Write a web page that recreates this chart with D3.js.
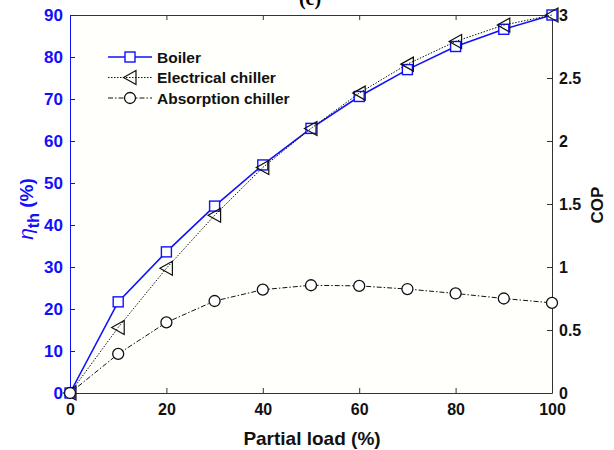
<!DOCTYPE html>
<html>
<head>
<meta charset="utf-8">
<script src="https://cdn.jsdelivr.net/npm/d3@7"></script>
<style>
  body { margin: 0; background: #fff; }
  text { font-family: 'Liberation Sans', Arial, sans-serif; font-weight: bold; }
</style>
</head>
<body>
<svg width="614" height="450"></svg>
<script>
// data
var loads = [0, 10, 20, 30, 40, 50, 60, 70, 80, 90, 100];
var boilerEff = [0, 21.7, 33.6, 44.5, 54.3, 63.0, 70.6, 77.0, 82.5, 86.6, 90.0];       // %, left axis
var elecCOP = [0, 0.52, 0.99, 1.41, 1.79, 2.10, 2.38, 2.61, 2.79, 2.92, 3.0];          // right axis
var absCOP = [0, 0.31, 0.56, 0.73, 0.82, 0.855, 0.85, 0.825, 0.79, 0.75, 0.715];       // right axis
var xTicks = [0, 20, 40, 60, 80, 100];
var yLeftTicks = [0, 10, 20, 30, 40, 50, 60, 70, 80, 90];
var yRightTicks = [0, 0.5, 1, 1.5, 2, 2.5, 3];

var blue = '#1010ff';
var svg = d3.select('svg');
// note: "top" is taken by window.top, so plot box uses its own names
var pLeft = 70, pRight = 552, pTop = 15, pBottom = 393;

var x = d3.scaleLinear().domain([0, 100]).range([pLeft, pRight]);
var yL = d3.scaleLinear().domain([0, 90]).range([pBottom, pTop]);
var yR = d3.scaleLinear().domain([0, 3]).range([pBottom, pTop]);

// plot background
svg.append('rect')
    .attr('x', pLeft).attr('y', pTop)
    .attr('width', pRight - pLeft).attr('height', pBottom - pTop)
    .attr('fill', '#fffffc');

// axes (matlab style, ticks inward)
svg.append('g')
    .attr('transform', 'translate(0,' + pBottom + ')')
    .call(d3.axisBottom(x).tickValues(xTicks).tickSize(-5).tickPadding(11).tickSizeOuter(0))
    .call(function (g) {
        g.select('.domain').attr('stroke', '#333');
        g.selectAll('line').attr('stroke', '#333');
        g.selectAll('text').attr('font-size', 16).attr('fill', '#111');
    });

svg.append('g')
    .attr('transform', 'translate(0,' + pTop + ')')
    .call(d3.axisTop(x).tickValues(xTicks).tickSize(-5).tickFormat('').tickSizeOuter(0))
    .call(function (g) {
        g.select('.domain').attr('stroke', '#333');
        g.selectAll('line').attr('stroke', '#333');
    });

svg.append('g')
    .attr('transform', 'translate(' + pRight + ',0)')
    .call(d3.axisRight(yR).tickValues(yRightTicks).tickFormat(d3.format('~g'))
        .tickSize(-5).tickPadding(7).tickSizeOuter(0))
    .call(function (g) {
        g.select('.domain').attr('stroke', '#333');
        g.selectAll('line').attr('stroke', '#333');
        g.selectAll('text').attr('font-size', 16).attr('fill', '#111');
    });

svg.append('g')
    .attr('transform', 'translate(' + pLeft + ',0)')
    .call(d3.axisLeft(yL).tickValues(yLeftTicks).tickSize(-5).tickPadding(7).tickSizeOuter(0))
    .call(function (g) {
        g.select('.domain').attr('stroke', blue);
        g.selectAll('line').attr('stroke', blue);
        g.selectAll('text').attr('font-size', 17).attr('fill', blue);
    });

// titles
svg.append('text')
    .attr('x', 310).attr('y', 5)
    .attr('text-anchor', 'middle')
    .attr('font-size', 20).attr('font-weight', 'normal')
    .style('font-family', "'Liberation Serif', serif")
    .text('(c)');

svg.append('text')
    .attr('x', (pLeft + pRight) / 2 + 1).attr('y', 445)
    .attr('text-anchor', 'middle')
    .attr('font-size', 19).attr('fill', '#111')
    .text('Partial load (%)');

var yl = svg.append('text')
    .attr('transform', 'translate(33,209) rotate(-90)')
    .attr('text-anchor', 'middle')
    .attr('font-size', 19).attr('fill', blue);
yl.append('tspan').attr('font-style', 'italic').attr('font-weight', 'normal').attr('font-size', 21).text('η');
yl.append('tspan').attr('dy', 6).attr('font-size', 16).text('th');
yl.append('tspan').attr('dy', -6).text(' (%)');

svg.append('text')
    .attr('transform', 'translate(603,205) rotate(-90)')
    .attr('text-anchor', 'middle')
    .attr('font-size', 17).attr('fill', '#111')
    .text('COP');

// series
var series = [
    { name: 'Boiler', values: boilerEff, y: yL, color: blue, dash: null, width: 1.6, marker: 'square' },
    { name: 'Electrical chiller', values: elecCOP, y: yR, color: '#111', dash: '1.5,1.5', width: 1, marker: 'triangle' },
    { name: 'Absorption chiller', values: absCOP, y: yR, color: '#111', dash: '5,2,1.5,2', width: 1, marker: 'circle' }
];

function drawMarker(g, type, cx, cy, color) {
    if (type === 'square') {
        g.append('rect')
            .attr('x', cx - 5).attr('y', cy - 5)
            .attr('width', 10).attr('height', 10)
            .attr('fill', '#fff').attr('stroke', color).attr('stroke-width', 1.4);
    } else if (type === 'triangle') {
        g.append('path')
            .attr('d', 'M' + (cx - 6.5) + ',' + cy + 'L' + (cx + 6) + ',' + (cy - 7) + 'L' + (cx + 6) + ',' + (cy + 7) + 'Z')
            .attr('fill', 'none').attr('stroke', color).attr('stroke-width', 1.2);
    } else {
        g.append('circle')
            .attr('cx', cx).attr('cy', cy).attr('r', 5.5)
            .attr('fill', '#fff').attr('stroke', color).attr('stroke-width', 1.3);
    }
}

series.forEach(function (s) {
    var g = svg.append('g');
    g.append('path')
        .datum(s.values)
        .attr('fill', 'none')
        .attr('stroke', s.color)
        .attr('stroke-width', s.width)
        .attr('stroke-dasharray', s.dash)
        .attr('d', d3.line()
            .x(function (d, i) { return x(loads[i]); })
            .y(function (d) { return s.y(d); }));
    s.values.forEach(function (v, i) {
        drawMarker(g, s.marker, x(loads[i]), s.y(v), s.color);
    });
});

// legend
var legend = svg.append('g');
series.forEach(function (s, i) {
    var ly = 57 + i * 20.5;
    legend.append('line')
        .attr('x1', 108).attr('x2', 152)
        .attr('y1', ly).attr('y2', ly)
        .attr('stroke', s.color).attr('stroke-width', s.width)
        .attr('stroke-dasharray', s.dash);
    drawMarker(legend, s.marker, 130, ly, s.color);
    legend.append('text')
        .attr('x', 157).attr('y', ly + 5.5)
        .attr('font-size', 15.5).attr('fill', '#111')
        .text(s.name);
});
</script>
</body>
</html>
